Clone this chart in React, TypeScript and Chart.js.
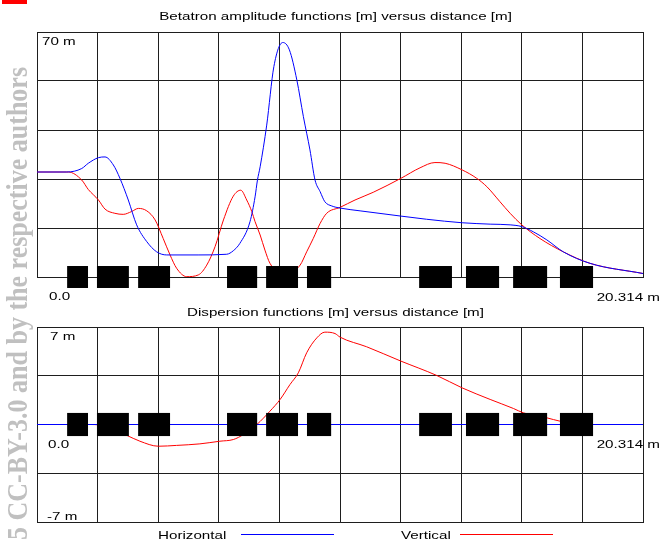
import React, { useEffect, useRef } from "react";
import { Chart, registerables } from "chart.js";

Chart.register(...registerables);

// ---------- data ----------
const S_MAX = 20.314;
const X_GRID = [0, 2.0314, 4.0628, 6.0942, 8.1256, 10.157, 12.1884, 14.2198, 16.2512, 18.2826, 20.314];
const BETA_Y_TICKS = [0, 14, 28, 42, 56, 70];
const DISP_Y_TICKS = [-7, -3.5, 0, 3.5, 7];

// Horizontal betatron amplitude function (blue)
const BETA_H_S = [0, 1.0, 1.5, 1.72, 2.06, 2.28, 2.56, 2.78, 3.06, 3.34, 3.68, 4.01, 4.35, 5.4, 6.36, 6.58, 6.8, 7.14, 7.31, 7.39, 7.48, 7.7, 7.94, 8.24, 8.46, 8.71, 8.93, 9.15, 9.32, 9.49, 9.65, 9.88, 10.16, 10.83, 12.2, 13.06, 14.25, 15.19, 15.86, 16.25, 16.64, 17.09, 17.64, 18.54, 20.314];
const BETA_H = [30, 30, 31.0, 32.5, 34.1, 34.3, 32.0, 28.2, 22.0, 14.9, 10.1, 7.2, 6.3, 6.3, 6.5, 7.5, 9.6, 15.8, 22.9, 27.7, 31.5, 43.4, 60.1, 67.0, 64.9, 56.3, 45.8, 36.3, 27.7, 24.4, 21.5, 20.3, 19.7, 18.9, 17.4, 16.5, 15.5, 15.1, 14.9, 14.4, 12.9, 10.6, 7.2, 3.9, 1.0];

// Vertical betatron amplitude function (red)
const BETA_V_S = [0, 1.05, 1.5, 1.72, 2.06, 2.28, 2.61, 2.89, 3.17, 3.4, 3.68, 3.96, 4.23, 4.46, 4.68, 5.02, 5.41, 5.69, 5.97, 6.25, 6.58, 6.83, 7.03, 7.2, 7.31, 7.48, 7.64, 7.81, 8.3, 8.82, 9.04, 9.26, 9.49, 9.71, 10.16, 10.66, 11.27, 12.2, 12.84, 13.34, 13.68, 14.25, 14.74, 15.08, 15.52, 15.86, 16.25, 16.86, 17.64, 18.54, 20.314];
const BETA_V = [30, 30, 27.7, 25.0, 22.0, 19.4, 18.2, 17.9, 18.7, 19.6, 18.9, 16.3, 11.0, 6.3, 2.5, 0.1, 0.6, 3.4, 8.7, 16.3, 23.1, 24.8, 22.0, 18.7, 15.8, 12.0, 7.7, 3.9, 0.5, 3.4, 7.2, 11.0, 15.3, 18.2, 19.9, 22.0, 24.2, 28.2, 31.2, 32.7, 32.5, 30.6, 28.2, 25.8, 21.5, 18.2, 14.9, 11.0, 7.2, 3.9, 1.0];

// Horizontal dispersion (blue)
const DISP_H_S = [0, 20.314];
const DISP_H = [0, 0];

// Vertical dispersion (red)
const DISP_V_S = [0, 1.8, 2.3, 3.0, 3.45, 4.07, 4.68, 5.46, 6.13, 6.58, 6.92, 7.37, 7.81, 8.15, 8.48, 8.76, 9.04, 9.38, 9.65, 9.99, 10.16, 11.05, 12.2, 13.4, 14.25, 15.19, 15.97, 16.3, 17.09, 17.53, 18.1, 18.64, 20.314];
const DISP_V = [0, 0, -0.12, -0.77, -1.2, -1.56, -1.5, -1.39, -1.2, -1.08, -0.72, 0, 0.96, 1.8, 2.87, 3.71, 5.15, 6.22, 6.63, 6.53, 6.27, 5.58, 4.55, 3.52, 2.63, 1.8, 1.15, 0.84, 0.48, 0.24, 0.08, 0, 0];

// Magnet positions along the lattice [m]
const MAGNET_START = [1.01, 2.01, 3.39, 6.37, 7.68, 9.05, 12.81, 14.38, 15.96, 17.53];
const MAGNET_END = [1.71, 3.08, 4.46, 7.38, 8.75, 9.86, 13.91, 15.49, 17.1, 18.64];

const BLUE = "#0000ff";
const RED = "#ff0000";
const GRID = "#1e1e1e";

const pts = (xs: number[], ys: number[]) => xs.map((x, i) => ({ x, y: ys[i] }));

const magnetPlugin = {
  id: "magnets",
  afterDatasetsDraw(chart: any, _args: any, opts: any) {
    const { ctx, scales } = chart;
    const xs = scales.x;
    const ys = scales.y;
    const half = opts.half;
    ctx.save();
    ctx.fillStyle = "#000";
    for (let i = 0; i < MAGNET_START.length; i++) {
      const x0 = xs.getPixelForValue(MAGNET_START[i]);
      const x1 = xs.getPixelForValue(MAGNET_END[i]);
      const y0 = ys.getPixelForValue(half);
      const y1 = ys.getPixelForValue(-half);
      ctx.fillRect(x0, y0, x1 - x0, y1 - y0);
    }
    ctx.restore();
  },
};

function makeConfig(datasets: any[], yMin: number, yMax: number, yTicks: number[], padding: any, half: number): any {
  return {
    type: "line",
    data: { datasets },
    plugins: [magnetPlugin],
    options: {
      animation: false,
      responsive: false,
      devicePixelRatio: 1,
      layout: { padding },
      plugins: {
        legend: { display: false },
        tooltip: { enabled: false },
        title: { display: false },
        magnets: { half },
      },
      elements: { point: { radius: 0 } },
      scales: {
        x: {
          type: "linear",
          min: 0,
          max: S_MAX,
          ticks: { display: false },
          grid: { color: GRID, lineWidth: 1, drawTicks: false },
          border: { display: true, color: GRID, width: 1 },
          afterBuildTicks: (sc: any) => {
            sc.ticks = X_GRID.map((v) => ({ value: v }));
          },
        },
        y: {
          type: "linear",
          min: yMin,
          max: yMax,
          ticks: { display: false },
          grid: { color: GRID, lineWidth: 1, drawTicks: false },
          border: { display: true, color: GRID, width: 1 },
          afterBuildTicks: (sc: any) => {
            sc.ticks = yTicks.map((v) => ({ value: v }));
          },
        },
      },
    },
  };
}

const lineDs = (label: string, data: any[], color: string) => ({
  label,
  data,
  borderColor: color,
  backgroundColor: color,
  borderWidth: 1,
  pointRadius: 0,
  fill: false,
  cubicInterpolationMode: "monotone",
});

const FONT = "'Liberation Sans', Arial, sans-serif";
const FS = 11.5;
const SX = 1.32;

function Label({ x, y, text, align = "left" }: { x: number; y: number; text: string; align?: string }) {
  const W = 600;
  let left = x;
  let origin = "left top";
  if (align === "center") {
    left = x - W / 2;
    origin = "center top";
  } else if (align === "right") {
    left = x - W;
    origin = "right top";
  }
  return (
    <div
      style={{
        position: "absolute",
        left,
        top: y,
        width: align === "left" ? undefined : W,
        textAlign: align as any,
        whiteSpace: "nowrap",
        fontFamily: FONT,
        fontSize: FS,
        lineHeight: "13px",
        color: "#000",
      }}
    >
      <span style={{ display: "inline-block", transform: `scaleX(${SX})`, transformOrigin: origin }}>{text}</span>
    </div>
  );
}

export default function App() {
  const topRef = useRef<HTMLCanvasElement>(null);
  const botRef = useRef<HTMLCanvasElement>(null);

  useEffect(() => {
    const c1 = new Chart(
      topRef.current as HTMLCanvasElement,
      makeConfig(
        [lineDs("Horizontal", pts(BETA_H_S, BETA_H), BLUE), lineDs("Vertical", pts(BETA_V_S, BETA_V), RED)],
        0,
        70,
        BETA_Y_TICKS,
        { left: 37, top: 32, right: 18, bottom: 23 },
        3.14
      )
    );
    const c2 = new Chart(
      botRef.current as HTMLCanvasElement,
      makeConfig(
        [lineDs("Horizontal", pts(DISP_H_S, DISP_H), BLUE), lineDs("Vertical", pts(DISP_V_S, DISP_V), RED)],
        -7,
        7,
        DISP_Y_TICKS,
        { left: 37, top: 27, right: 18, bottom: 19 },
        0.83
      )
    );
    return () => {
      c1.destroy();
      c2.destroy();
    };
  }, []);

  return (
    <div style={{ position: "absolute", left: 0, top: 0, width: 661, height: 541, overflow: "hidden", background: "#fff" }}>
      <canvas ref={topRef} width={661} height={300} style={{ position: "absolute", left: 0, top: 0, display: "block" }} />
      <canvas ref={botRef} width={661} height={241} style={{ position: "absolute", left: 0, top: 300, display: "block" }} />

      <Label x={335.5} y={10.3} text="Betatron amplitude functions [m] versus distance [m]" align="center" />
      <Label x={41.5} y={34.6} text="70 m" />
      <Label x={49} y={290.3} text="0.0" />
      <Label x={660} y={290.6} text="20.314 m" align="right" />

      <Label x={335} y={305.6} text="Dispersion functions [m] versus distance [m]" align="center" />
      <Label x={50} y={329.6} text="7 m" />
      <Label x={48.3} y={438} text="0.0" />
      <Label x={660} y={438} text="20.314 m" align="right" />
      <Label x={46.7} y={509.6} text="-7 m" />

      <Label x={158.3} y={528.6} text="Horizontal" />
      <div style={{ position: "absolute", left: 241, top: 534, width: 93, height: 1, background: BLUE }} />
      <Label x={400.7} y={528.6} text="Vertical" />
      <div style={{ position: "absolute", left: 460, top: 534, width: 93, height: 1, background: RED }} />

      <div style={{ position: "absolute", left: 2, top: 0, width: 25, height: 4, background: RED }} />
      <div
        style={{
          position: "absolute",
          left: 3,
          top: 966.7,
          width: 900,
          textAlign: "right",
          whiteSpace: "nowrap",
          fontFamily: "'Liberation Serif', 'Times New Roman', serif",
          fontWeight: "bold",
          fontSize: 26,
          lineHeight: "26px",
          color: "#c0c0c0",
          transformOrigin: "0 0",
          transform: "rotate(-90deg) scaleY(1.16)",
        }}
      >
        Copyright © 2015 CC-BY-3.0 and by the respective authors
      </div>
    </div>
  );
}
